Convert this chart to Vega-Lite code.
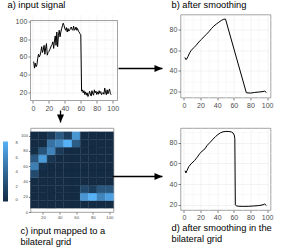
{
  "$schema": "https://vega.github.io/schema/vega-lite/v6.json",
  "padding": {"left": 2.5, "top": 0.5, "right": 0, "bottom": 0},
  "background": "white",
  "config": {
    "font": "Liberation Sans",
    "view": {"stroke": null},
    "axis": {"labelFont": "Liberation Sans", "labelFontSize": 7, "labelColor": "#4d4d4d", "tickColor": "#333333", "tickSize": 2.5, "tickWidth": 0.6, "labelPadding": 1.2, "domain": false, "labelFlush": false, "labelOverlap": false, "gridWidth": 0.6},
    "title": {"font": "Liberation Sans", "fontSize": 9.3, "fontWeight": "normal", "anchor": "start", "frame": "group", "color": "#000000", "baseline": "alphabetic"}
  },
  "bounds": "flush",
  "columns": 2,
  "spacing": {"row": 27.5, "column": 63},
  "resolve": {"legend": {"color": "independent"}},
  "concat": [
    {
      "width": 87, "height": 86,
      "title": {"text": "a) input signal", "dx": -23, "offset": 4.5},
      "resolve": {"scale": {"x": "independent", "y": "independent"}},
      "layer": [
        {
          "data": {"values": [
            {"x":1,"y":54.8},{"x":2,"y":47.4},{"x":3,"y":53},{"x":4,"y":49},{"x":5,"y":51},{"x":6,"y":58},{"x":7,"y":63},{"x":8,"y":60},{"x":9,"y":62},{"x":10,"y":66},
            {"x":11,"y":71.5},{"x":12,"y":65},{"x":13,"y":68},{"x":14,"y":73},{"x":15,"y":63},{"x":16,"y":70},{"x":17,"y":75},{"x":18,"y":62},{"x":19,"y":65},{"x":20,"y":66},
            {"x":21,"y":68},{"x":22,"y":70},{"x":23,"y":72.6},{"x":24,"y":74},{"x":25,"y":77},{"x":26,"y":69.6},{"x":27,"y":78},{"x":28,"y":83.7},{"x":29,"y":73},{"x":30,"y":88},
            {"x":31,"y":71.5},{"x":32,"y":84},{"x":33,"y":90},{"x":34,"y":82.6},{"x":35,"y":88},{"x":36,"y":91.8},{"x":37,"y":95},{"x":38,"y":98},{"x":39,"y":95.5},{"x":40,"y":92},
            {"x":41,"y":90},{"x":42,"y":93},{"x":43,"y":88},{"x":44,"y":92},{"x":45,"y":89},{"x":46,"y":90},{"x":47,"y":92},{"x":48,"y":93.7},{"x":49,"y":91},{"x":50,"y":90},
            {"x":51,"y":94.8},{"x":52,"y":90},{"x":53,"y":91},{"x":54,"y":93.7},{"x":55,"y":90},{"x":56,"y":92},{"x":57,"y":89},{"x":58,"y":88},{"x":59,"y":86},{"x":60,"y":85},
            {"x":61,"y":21.5},{"x":62,"y":23},{"x":63,"y":19.6},{"x":64,"y":22},{"x":65,"y":17.8},{"x":66,"y":20.7},{"x":67,"y":17},{"x":68,"y":19.6},{"x":69,"y":15.5},{"x":70,"y":17.8},
            {"x":71,"y":21.5},{"x":72,"y":18.5},{"x":73,"y":16},{"x":74,"y":22},{"x":75,"y":18.5},{"x":76,"y":17},{"x":77,"y":23},{"x":78,"y":19.6},{"x":79,"y":21.5},{"x":80,"y":17.8},
            {"x":81,"y":20.7},{"x":82,"y":18},{"x":83,"y":22},{"x":84,"y":19},{"x":85,"y":21},{"x":86,"y":17.5},{"x":87,"y":19},{"x":88,"y":20},{"x":89,"y":18},{"x":90,"y":25},
            {"x":91,"y":20.7},{"x":92,"y":17.5},{"x":93,"y":23},{"x":94,"y":18.5},{"x":95,"y":21.5},{"x":96,"y":24},{"x":97,"y":19},{"x":98,"y":17.5}
          ]},
          "mark": {"type": "line", "color": "#000000", "strokeWidth": 1},
          "encoding": {
            "x": {"field": "x", "type": "quantitative", "title": null, "scale": {"domain": [-3, 106], "nice": false, "zero": false},
                  "axis": {"values": [0,10,20,30,40,50,60,70,80,90,100], "labelExpr": "datum.value % 20 === 0 ? datum.label : ''", "grid": true, "labelOverlap": false, "labelFlush": false,
                           "gridColor": {"condition": {"test": "datum.value % 20 === 0", "value": "#ebebeb"}, "value": "#f5f5f5"},
                           "tickOpacity": {"condition": {"test": "datum.value % 20 === 0", "value": 1}, "value": 0}}},
            "y": {"field": "y", "type": "quantitative", "title": null, "scale": {"domain": [11, 101], "range": [86, 6], "nice": false, "zero": false},
                  "axis": {"values": [20,30,40,50,60,70,80,90,100], "labelExpr": "datum.value % 20 === 0 ? datum.label : ''", "grid": true, "labelOverlap": false,
                           "gridColor": {"condition": {"test": "datum.value % 20 === 0", "value": "#ebebeb"}, "value": "#f5f5f5"},
                           "tickOpacity": {"condition": {"test": "datum.value % 20 === 0", "value": 1}, "value": 0}}}
          }
        },
        {
          "data": {"values": [{"x_lo": -3, "x_hi": 106, "y_lo": 11, "y_hi": 101}]},
          "mark": {"type": "rect", "fillOpacity": 0, "stroke": "#8c8c8c", "strokeWidth": 0.8},
          "encoding": {
            "x": {"field": "x_lo", "type": "quantitative", "scale": {"domain": [-3, 106], "nice": false, "zero": false}, "axis": null},
            "x2": {"field": "x_hi"},
            "y": {"field": "y_lo", "type": "quantitative", "scale": {"domain": [11, 101], "range": [86, 6], "nice": false, "zero": false}, "axis": null},
            "y2": {"field": "y_hi"}
          }
        },
        {
          "data": {"values": [
            {"from_x": 1.0115, "to_x": 1.517, "from_y": 0.372, "to_y": 0.372, "dir": "right"},
            {"from_x": 0.345, "to_x": 0.345, "from_y": -0.1163, "to_y": -0.2558, "dir": "down"}
          ]},
          "layer": [
            {"mark": {"type": "rule", "color": "#000000", "strokeWidth": 1.3},
             "encoding": {"x": {"field": "from_x", "type": "quantitative", "scale": {"domain": [0, 1], "nice": false, "zero": false}, "axis": null},
                          "x2": {"field": "to_x"},
                          "y": {"field": "from_y", "type": "quantitative", "scale": {"domain": [0, 1], "nice": false, "zero": false}, "axis": null},
                          "y2": {"field": "to_y"}}},
            {"mark": {"type": "point", "filled": true, "size": 256, "color": "#000000", "opacity": 1},
             "encoding": {"x": {"field": "to_x", "type": "quantitative"}, "y": {"field": "to_y", "type": "quantitative"},
                          "shape": {"field": "dir", "type": "nominal", "scale": {"domain": ["right", "down"], "range": ["M0,0L-1,-0.44L-1,0.44Z", "M0,0L-0.44,-1L0.44,-1Z"]}, "legend": null}}}
          ]
        }
      ]
    },
    {
      "width": 90, "height": 83,
      "view": {"stroke": "#8c8c8c", "strokeWidth": 0.8},
      "title": {"text": "b) after smoothing", "dx": -9, "offset": 4},
      "data": {"values": [
        {"x":1.3,"y":53},{"x":2.5,"y":50.8},{"x":3.5,"y":51.5},{"x":5,"y":54},{"x":7,"y":57.5},{"x":9,"y":60},{"x":12,"y":62.5},{"x":15,"y":65},{"x":18,"y":68},{"x":21,"y":70.5},
        {"x":24,"y":73},{"x":27,"y":75.5},{"x":30,"y":78},{"x":33,"y":81},{"x":36,"y":83.5},{"x":39,"y":85.5},{"x":42,"y":87.3},{"x":45,"y":89},{"x":48,"y":90.2},{"x":50,"y":90.3},
        {"x":75,"y":18.6},{"x":80,"y":18.3},{"x":85,"y":18.9},{"x":90,"y":19.3},{"x":95,"y":19.8},{"x":97,"y":20.2},{"x":99,"y":19}
      ]},
      "mark": {"type": "line", "color": "#000000", "strokeWidth": 1},
      "encoding": {
        "x": {"field": "x", "type": "quantitative", "title": null, "scale": {"domain": [-4, 104], "nice": false, "zero": false},
              "axis": {"values": [0,10,20,30,40,50,60,70,80,90,100], "labelExpr": "datum.value % 20 === 0 ? datum.label : ''", "grid": true, "labelOverlap": false,
                       "gridColor": {"condition": {"test": "datum.value % 20 === 0", "value": "#ebebeb"}, "value": "#f5f5f5"},
                       "tickOpacity": {"condition": {"test": "datum.value % 20 === 0", "value": 1}, "value": 0}}},
        "y": {"field": "y", "type": "quantitative", "title": null, "scale": {"domain": [14, 94.8], "nice": false, "zero": false},
              "axis": {"values": [20,30,40,50,60,70,80,90], "labelExpr": "datum.value % 20 === 0 ? datum.label : ''", "grid": true, "labelOverlap": false,
                       "gridColor": {"condition": {"test": "datum.value % 20 === 0", "value": "#ebebeb"}, "value": "#f5f5f5"},
                       "tickOpacity": {"condition": {"test": "datum.value % 20 === 0", "value": 1}, "value": 0}}}
      }
    },
    {
      "width": 83, "height": 84,
      "view": {"stroke": "#8c8c8c", "strokeWidth": 0.8},
      "title": {"text": ["c) input mapped to a", "\u00a0\u00a0\u00a0\u00a0bilateral grid"], "orient": "bottom", "baseline": "top", "dx": -10, "offset": 7.5, "lineHeight": 11},
      "resolve": {"scale": {"x": "independent", "y": "independent"}},
      "layer": [
        {
          "data": {"values": [
            {"x1":5,"x2":15,"y1":5,"y2":15,"n":0},{"x1":5,"x2":15,"y1":15,"y2":25,"n":0},{"x1":5,"x2":15,"y1":25,"y2":35,"n":0},{"x1":5,"x2":15,"y1":35,"y2":45,"n":0},{"x1":5,"x2":15,"y1":45,"y2":55,"n":2.1},
            {"x1":5,"x2":15,"y1":55,"y2":65,"n":5.3},{"x1":5,"x2":15,"y1":65,"y2":75,"n":3},{"x1":5,"x2":15,"y1":75,"y2":85,"n":0.2},{"x1":5,"x2":15,"y1":85,"y2":95,"n":0},{"x1":5,"x2":15,"y1":95,"y2":105,"n":0},
            {"x1":15,"x2":25,"y1":5,"y2":15,"n":0},{"x1":15,"x2":25,"y1":15,"y2":25,"n":0},{"x1":15,"x2":25,"y1":25,"y2":35,"n":0},{"x1":15,"x2":25,"y1":35,"y2":45,"n":0},{"x1":15,"x2":25,"y1":45,"y2":55,"n":0},
            {"x1":15,"x2":25,"y1":55,"y2":65,"n":0.4},{"x1":15,"x2":25,"y1":65,"y2":75,"n":7},{"x1":15,"x2":25,"y1":75,"y2":85,"n":2.7},{"x1":15,"x2":25,"y1":85,"y2":95,"n":0},{"x1":15,"x2":25,"y1":95,"y2":105,"n":0},
            {"x1":25,"x2":35,"y1":5,"y2":15,"n":0},{"x1":25,"x2":35,"y1":15,"y2":25,"n":0},{"x1":25,"x2":35,"y1":25,"y2":35,"n":0},{"x1":25,"x2":35,"y1":35,"y2":45,"n":0},{"x1":25,"x2":35,"y1":45,"y2":55,"n":0},
            {"x1":25,"x2":35,"y1":55,"y2":65,"n":0},{"x1":25,"x2":35,"y1":65,"y2":75,"n":0.7},{"x1":25,"x2":35,"y1":75,"y2":85,"n":5.6},{"x1":25,"x2":35,"y1":85,"y2":95,"n":4.6},{"x1":25,"x2":35,"y1":95,"y2":105,"n":1},
            {"x1":35,"x2":45,"y1":5,"y2":15,"n":0},{"x1":35,"x2":45,"y1":15,"y2":25,"n":0},{"x1":35,"x2":45,"y1":25,"y2":35,"n":0},{"x1":35,"x2":45,"y1":35,"y2":45,"n":0},{"x1":35,"x2":45,"y1":45,"y2":55,"n":0},
            {"x1":35,"x2":45,"y1":55,"y2":65,"n":0},{"x1":35,"x2":45,"y1":65,"y2":75,"n":0},{"x1":35,"x2":45,"y1":75,"y2":85,"n":1},{"x1":35,"x2":45,"y1":85,"y2":95,"n":5.8},{"x1":35,"x2":45,"y1":95,"y2":105,"n":3.1},
            {"x1":45,"x2":55,"y1":5,"y2":15,"n":0},{"x1":45,"x2":55,"y1":15,"y2":25,"n":0},{"x1":45,"x2":55,"y1":25,"y2":35,"n":0},{"x1":45,"x2":55,"y1":35,"y2":45,"n":0},{"x1":45,"x2":55,"y1":45,"y2":55,"n":0},
            {"x1":45,"x2":55,"y1":55,"y2":65,"n":0},{"x1":45,"x2":55,"y1":65,"y2":75,"n":0},{"x1":45,"x2":55,"y1":75,"y2":85,"n":0},{"x1":45,"x2":55,"y1":85,"y2":95,"n":8.2},{"x1":45,"x2":55,"y1":95,"y2":105,"n":1.3},
            {"x1":55,"x2":65,"y1":5,"y2":15,"n":0},{"x1":55,"x2":65,"y1":15,"y2":25,"n":0},{"x1":55,"x2":65,"y1":25,"y2":35,"n":0},{"x1":55,"x2":65,"y1":35,"y2":45,"n":0},{"x1":55,"x2":65,"y1":45,"y2":55,"n":0},
            {"x1":55,"x2":65,"y1":55,"y2":65,"n":0},{"x1":55,"x2":65,"y1":65,"y2":75,"n":0},{"x1":55,"x2":65,"y1":75,"y2":85,"n":0},{"x1":55,"x2":65,"y1":85,"y2":95,"n":3.3},{"x1":55,"x2":65,"y1":95,"y2":105,"n":6.7},
            {"x1":65,"x2":75,"y1":5,"y2":15,"n":0},{"x1":65,"x2":75,"y1":15,"y2":25,"n":6.7},{"x1":65,"x2":75,"y1":25,"y2":35,"n":2},{"x1":65,"x2":75,"y1":35,"y2":45,"n":0},{"x1":65,"x2":75,"y1":45,"y2":55,"n":0},
            {"x1":65,"x2":75,"y1":55,"y2":65,"n":0},{"x1":65,"x2":75,"y1":65,"y2":75,"n":0},{"x1":65,"x2":75,"y1":75,"y2":85,"n":0},{"x1":65,"x2":75,"y1":85,"y2":95,"n":0},{"x1":65,"x2":75,"y1":95,"y2":105,"n":0},
            {"x1":75,"x2":85,"y1":5,"y2":15,"n":0},{"x1":75,"x2":85,"y1":15,"y2":25,"n":8.2},{"x1":75,"x2":85,"y1":25,"y2":35,"n":1.2},{"x1":75,"x2":85,"y1":35,"y2":45,"n":0},{"x1":75,"x2":85,"y1":45,"y2":55,"n":0},
            {"x1":75,"x2":85,"y1":55,"y2":65,"n":0},{"x1":75,"x2":85,"y1":65,"y2":75,"n":0},{"x1":75,"x2":85,"y1":75,"y2":85,"n":0},{"x1":75,"x2":85,"y1":85,"y2":95,"n":0},{"x1":75,"x2":85,"y1":95,"y2":105,"n":0},
            {"x1":85,"x2":95,"y1":5,"y2":15,"n":0},{"x1":85,"x2":95,"y1":15,"y2":25,"n":5.7},{"x1":85,"x2":95,"y1":25,"y2":35,"n":2.9},{"x1":85,"x2":95,"y1":35,"y2":45,"n":0},{"x1":85,"x2":95,"y1":45,"y2":55,"n":0},
            {"x1":85,"x2":95,"y1":55,"y2":65,"n":0},{"x1":85,"x2":95,"y1":65,"y2":75,"n":0},{"x1":85,"x2":95,"y1":75,"y2":85,"n":0},{"x1":85,"x2":95,"y1":85,"y2":95,"n":0},{"x1":85,"x2":95,"y1":95,"y2":105,"n":0},
            {"x1":95,"x2":105,"y1":5,"y2":15,"n":0},{"x1":95,"x2":105,"y1":15,"y2":25,"n":7.2},{"x1":95,"x2":105,"y1":25,"y2":35,"n":2.9},{"x1":95,"x2":105,"y1":35,"y2":45,"n":0},{"x1":95,"x2":105,"y1":45,"y2":55,"n":0},
            {"x1":95,"x2":105,"y1":55,"y2":65,"n":0},{"x1":95,"x2":105,"y1":65,"y2":75,"n":0},{"x1":95,"x2":105,"y1":75,"y2":85,"n":0},{"x1":95,"x2":105,"y1":85,"y2":95,"n":0},{"x1":95,"x2":105,"y1":95,"y2":105,"n":0}
          ]},
          "mark": {"type": "rect", "strokeWidth": 0.35},
          "encoding": {
            "x": {"field": "x1", "type": "quantitative", "title": null, "scale": {"domain": [5, 105], "nice": false, "zero": false},
                  "axis": {"values": [20,40,60,80,100], "labelFontSize": 4.2, "tickSize": 2, "labelPadding": 1, "grid": false, "labelOverlap": false}},
            "x2": {"field": "x2"},
            "y": {"field": "y1", "type": "quantitative", "title": null, "scale": {"domain": [0, 110], "nice": false, "zero": false},
                  "axis": {"values": [0,20,40,60,80,100], "labelFontSize": 4.2, "tickSize": 2, "labelPadding": 1, "grid": false, "labelOverlap": false}},
            "y2": {"field": "y2"},
            "color": {"field": "n", "type": "quantitative", "scale": {"domain": [0, 8.2], "range": ["#132B43", "#56B1F7"], "interpolate": "lab"},
                      "legend": {"orient": "none", "legendX": -27.5, "legendY": 13.5, "title": null, "padding": 0, "direction": "vertical",
                                 "gradientLength": 60, "gradientThickness": 5, "values": [0,2,4,6,8], "labelFontSize": 4.2, "labelColor": "#4d4d4d", "labelOffset": 7.5, "labelFont": "Liberation Sans"}},
            "stroke": {"field": "n", "type": "quantitative", "scale": {"domain": [0, 8.2], "range": ["#132B43", "#56B1F7"], "interpolate": "lab"}, "legend": null}
          }
        },
        {
          "data": {"values": [{"from_x": 0.988, "to_x": 1.59, "y": 0.4226}]},
          "layer": [
            {"mark": {"type": "rule", "color": "#000000", "strokeWidth": 1.3},
             "encoding": {"x": {"field": "from_x", "type": "quantitative", "scale": {"domain": [0, 1], "nice": false, "zero": false}, "axis": null},
                          "x2": {"field": "to_x"},
                          "y": {"field": "y", "type": "quantitative", "scale": {"domain": [0, 1], "nice": false, "zero": false}, "axis": null}}},
            {"mark": {"type": "point", "shape": "M0,0L-1,-0.44L-1,0.44Z", "filled": true, "size": 256, "color": "#000000", "opacity": 1},
             "encoding": {"x": {"field": "to_x", "type": "quantitative"}, "y": {"field": "y", "type": "quantitative"}}}
          ]
        }
      ]
    },
    {
      "width": 90, "height": 82,
      "view": {"stroke": "#8c8c8c", "strokeWidth": 0.8},
      "title": {"text": ["d) after smoothing in the", "\u00a0\u00a0\u00a0\u00a0bilateral grid"], "orient": "bottom", "baseline": "top", "dx": -9, "offset": 3, "lineHeight": 11},
      "data": {"values": [
        {"x":1.5,"y":53},{"x":2.5,"y":50.8},{"x":4,"y":53.5},{"x":6,"y":57},{"x":8.7,"y":59.7},{"x":13,"y":62.9},{"x":16,"y":66},{"x":19,"y":69.4},{"x":22,"y":72},{"x":25.4,"y":74.2},
        {"x":28,"y":77.5},{"x":31.7,"y":80.6},{"x":35,"y":83.5},{"x":38,"y":86},{"x":41,"y":88},{"x":44,"y":89.7},{"x":47,"y":90.6},{"x":50.4,"y":91},{"x":54,"y":90.9},{"x":57,"y":90.5},
        {"x":59,"y":89.5},{"x":60.5,"y":87.5},{"x":61.2,"y":84},{"x":61.8,"y":20},{"x":63,"y":19},{"x":66,"y":18.6},{"x":72,"y":18.5},{"x":78,"y":18.6},{"x":84,"y":18.9},{"x":90,"y":19.3},
        {"x":95,"y":20},{"x":97,"y":20.8},{"x":99,"y":19.4}
      ]},
      "mark": {"type": "line", "color": "#000000", "strokeWidth": 1},
      "encoding": {
        "x": {"field": "x", "type": "quantitative", "title": null, "scale": {"domain": [-4, 104], "nice": false, "zero": false},
              "axis": {"values": [0,10,20,30,40,50,60,70,80,90,100], "labelExpr": "datum.value % 20 === 0 ? datum.label : ''", "grid": true, "labelOverlap": false,
                       "gridColor": {"condition": {"test": "datum.value % 20 === 0", "value": "#ebebeb"}, "value": "#f5f5f5"},
                       "tickOpacity": {"condition": {"test": "datum.value % 20 === 0", "value": 1}, "value": 0}}},
        "y": {"field": "y", "type": "quantitative", "title": null, "scale": {"domain": [15, 94.3], "nice": false, "zero": false},
              "axis": {"values": [20,30,40,50,60,70,80,90], "labelExpr": "datum.value % 20 === 0 ? datum.label : ''", "grid": true, "labelOverlap": false,
                       "gridColor": {"condition": {"test": "datum.value % 20 === 0", "value": "#ebebeb"}, "value": "#f5f5f5"},
                       "tickOpacity": {"condition": {"test": "datum.value % 20 === 0", "value": 1}, "value": 0}}}
      }
    }
  ]
}
